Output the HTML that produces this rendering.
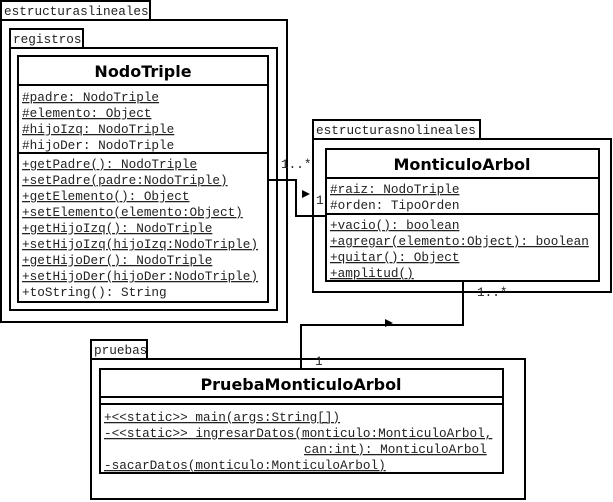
<!DOCTYPE html>
<html><head><meta charset="utf-8"><style>
body{margin:0;background:#fff;}
svg{display:block}
.m{font-family:"Liberation Mono",monospace;font-size:12.7px;fill:#222}
.t{font-family:"DejaVu Sans","Liberation Sans",sans-serif;font-weight:bold;font-size:16px;fill:#000}
.u{text-decoration:underline}
</style></head><body>
<svg width="613" height="502" viewBox="0 0 613 502" xmlns="http://www.w3.org/2000/svg">
<g fill="#fff" stroke="#000" stroke-width="2">
<rect x="1" y="1" width="149" height="19"/>
<rect x="1" y="20" width="286" height="302"/>
<rect x="10" y="29" width="73" height="19"/>
<rect x="10" y="48" width="267" height="262"/>
<rect x="18" y="56" width="250" height="246"/>
<line x1="18" y1="85" x2="268" y2="85"/>
<line x1="18" y1="153" x2="268" y2="153"/>
<rect x="313" y="120" width="167" height="19"/>
<rect x="313" y="139" width="298" height="153"/>
<rect x="326" y="149" width="273" height="132"/>
<line x1="326" y1="178" x2="599" y2="178"/>
<line x1="326" y1="214" x2="599" y2="214"/>
<rect x="91" y="340" width="56" height="19"/>
<rect x="91" y="359" width="434" height="140"/>
<rect x="100" y="369" width="403" height="104"/>
<line x1="100" y1="397" x2="503" y2="397"/>
<line x1="100" y1="404" x2="503" y2="404"/>
</g>
<g fill="none" stroke="#000" stroke-width="2">
<polyline points="268,180 296,180 296,216 326,216"/>
<polyline points="463,281 463,325 301,325 301,369"/>
</g>
<polygon points="302,190 310,194 302,198" fill="#000"/>
<polygon points="385,319 393,323 385,327" fill="#000"/>
<g class="m">
<text x="4" y="15">estructuraslineales</text>
<text x="13" y="43">registros</text>
<text x="316" y="134">estructurasnolineales</text>
<text x="94" y="354">pruebas</text>
<text x="281" y="168">1..*</text>
<text x="316" y="204">1</text>
<text x="477" y="296">1..*</text>
<text x="315" y="365">1</text>
<text x="22" y="101" class="u">#padre: NodoTriple</text>
<text x="22" y="117" class="u">#elemento: Object</text>
<text x="22" y="133" class="u">#hijoIzq: NodoTriple</text>
<text x="22" y="149">#hijoDer: NodoTriple</text>
<text x="22" y="168" class="u">+getPadre(): NodoTriple</text>
<text x="22" y="184" class="u">+setPadre(padre:NodoTriple)</text>
<text x="22" y="200" class="u">+getElemento(): Object</text>
<text x="22" y="216" class="u">+setElemento(elemento:Object)</text>
<text x="22" y="232" class="u">+getHijoIzq(): NodoTriple</text>
<text x="22" y="248" class="u">+setHijoIzq(hijoIzq:NodoTriple)</text>
<text x="22" y="264" class="u">+getHijoDer(): NodoTriple</text>
<text x="22" y="280" class="u">+setHijoDer(hijoDer:NodoTriple)</text>
<text x="22" y="296">+toString(): String</text>
<text x="330" y="193" class="u">#raiz: NodoTriple</text>
<text x="330" y="209">#orden: TipoOrden</text>
<text x="330" y="229" class="u">+vacio(): boolean</text>
<text x="330" y="245" class="u">+agregar(elemento:Object): boolean</text>
<text x="330" y="261" class="u">+quitar(): Object</text>
<text x="330" y="277" class="u">+amplitud()</text>
<text x="104" y="421" class="u">+&lt;&lt;static&gt;&gt; main(args:String[])</text>
<text x="104" y="437" class="u">-&lt;&lt;static&gt;&gt; ingresarDatos(monticulo:MonticuloArbol,</text>
<text x="304" y="453" class="u">can:int): MonticuloArbol</text>
<text x="104" y="469" class="u">-sacarDatos(monticulo:MonticuloArbol)</text>
</g>
<g class="t" text-anchor="middle">
<text x="143" y="77">NodoTriple</text>
<text x="462" y="170">MonticuloArbol</text>
<text x="301" y="390">PruebaMonticuloArbol</text>
</g>
</svg>
</body></html>
